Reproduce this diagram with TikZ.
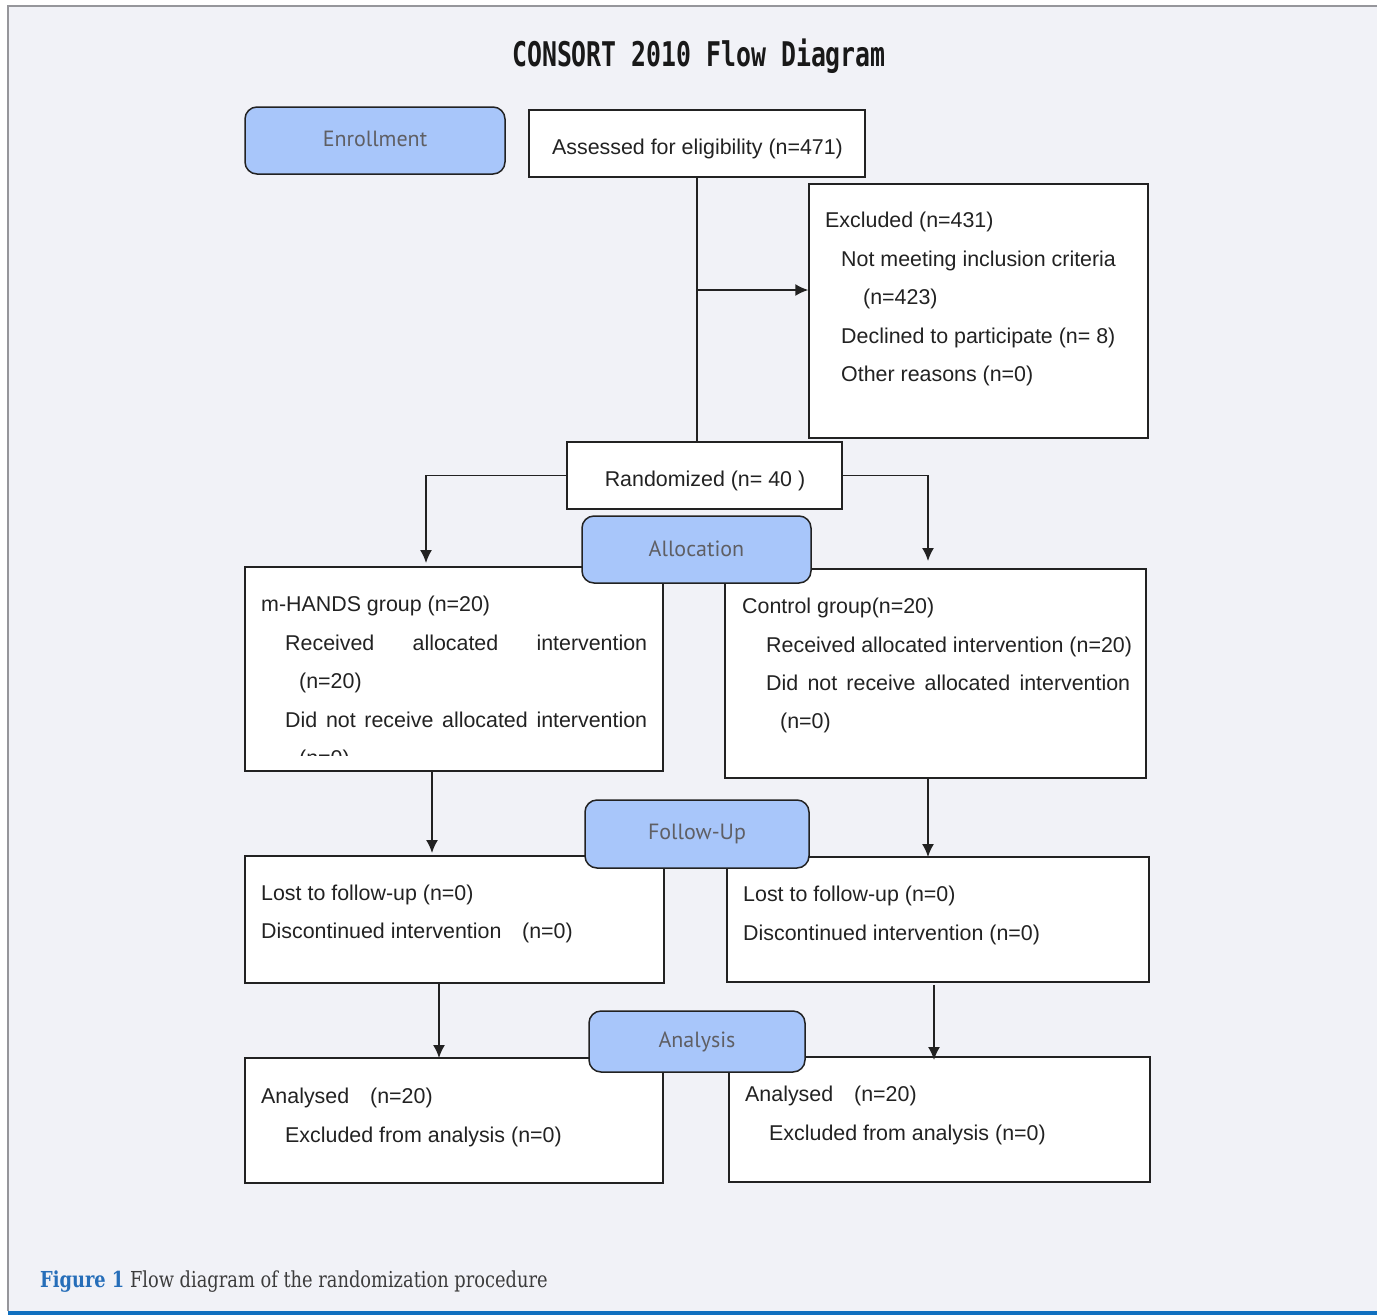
\documentclass[tikz,border=0pt]{standalone}
\usepackage{fontspec}
\setmainfont{Liberation Sans}
\newfontfamily\titlefont[FakeStretch=0.73]{DejaVu Sans Mono}
\newfontfamily\labelfont{PT Sans}
\newfontfamily\capfont[FakeStretch=0.81]{DejaVu Serif}
\usetikzlibrary{arrows.meta,calc}
\definecolor{bg}{RGB}{241,242,247}
\definecolor{lblue}{RGB}{168,198,250}
\definecolor{ink}{RGB}{34,34,34}
\definecolor{lbltext}{RGB}{95,95,100}
\definecolor{capblue}{RGB}{38,110,185}
\definecolor{capgray}{RGB}{60,60,60}
\definecolor{barblue}{RGB}{17,112,191}
\definecolor{frame}{RGB}{150,150,155}
\tikzset{
  box/.style={draw=ink, line width=1.5pt, fill=white, inner sep=0pt, rectangle},
  lbl/.style={draw=ink, line width=1.5pt, fill=lblue, rounded corners=12pt, inner sep=0pt,
    font=\labelfont\fontsize{22}{26}\selectfont, text=lbltext},
  txt/.style={anchor=base west, inner sep=0pt, font=\fontsize{21.4}{25}\selectfont, text=ink},
  ctxt/.style={anchor=base, inner sep=0pt, font=\fontsize{21.4}{25}\selectfont, text=ink},
  conn/.style={draw=ink, line width=1.5pt},
  arr/.style={conn, -{Latex[length=13pt,width=12pt]}}
}
\begin{document}
\begin{tikzpicture}[x=1pt,y=-1pt]
\useasboundingbox (0,0) rectangle (1377,1315);
% background and frame
\fill[white] (0,0) rectangle (1377,1315);
\fill[bg] (8,6) rectangle (1377,1311);
\draw[frame, line width=1.5pt] (8,1311) -- (8,6) -- (1377,6);
\fill[barblue] (8,1311) rectangle (1377,1315);

% title
\node[inner sep=0pt, text=black!90, font=\titlefont\bfseries\fontsize{34}{40}\selectfont] (title) at (699,56) {CONSORT 2010 Flow Diagram};

% boxes
\node[box, minimum width=336pt, minimum height=67pt] (assess) at (697,143.5) {};
\node[box, minimum width=339pt, minimum height=254pt] (excl) at (978.5,311) {};
\node[box, minimum width=275pt, minimum height=67pt] (rand) at (704.5,475.5) {};
\node[box, minimum width=418pt, minimum height=204pt] (mh) at (454,669) {};
\node[box, minimum width=421pt, minimum height=209pt] (ctl) at (935.5,673.5) {};
\node[box, minimum width=419pt, minimum height=127pt] (lostL) at (454.5,919.5) {};
\node[box, minimum width=422pt, minimum height=125pt] (lostR) at (938,919.5) {};
\node[box, minimum width=418pt, minimum height=125pt] (anL) at (454,1120.5) {};
\node[box, minimum width=421pt, minimum height=125pt] (anR) at (939.5,1119.5) {};

% connectors
\coordinate (j1) at (697,290);
\coordinate (t1) at (426,563);
\coordinate (t2) at (928,561);
\coordinate (t3) at (432,853);
\coordinate (t4) at (928,857);
\coordinate (t5) at (439,1058);
\coordinate (t6) at (934,1060);
\draw[conn] (assess.south) -- (assess.south |- rand.north);
\draw[arr] (j1) -- (j1 -| excl.west);
\draw[arr] (rand.west) -| (t1);
\draw[arr] (rand.east) -| (t2);
\draw[arr] (mh.south -| t3) -- (t3);
\draw[arr] (ctl.south -| t4) -- (t4);
\draw[arr] (lostL.south -| t5) -- (t5);
\draw[arr] ($(lostR.south -| t6)+(0,2)$) -- (t6);

% texts
\node[ctxt] (assessT) at (697.5,154) {Assessed for eligibility (n=471)};
\node[ctxt] (randT) at (705,486) {Randomized (n= 40 )};

\node[txt] (ex1) at (825,227) {Excluded (n=431)};
\node[txt] (ex2) at (841,266) {Not meeting inclusion criteria};
\node[txt] (ex3) at (863,304) {(n=423)};
\node[txt] (ex4) at (841,343) {Declined to participate (n= 8)};
\node[txt] (ex5) at (841,381) {Other reasons (n=0)};

\begin{scope}
\clip (246,568) rectangle (662,755);
\node[txt] (mh1) at (261,611) {m-HANDS group (n=20)};
\node[txt] (mh2) at (285,650) {\makebox[362pt][s]{Received allocated intervention}};
\node[txt] (mh3) at (299,688) {(n=20)};
\node[txt] (mh4) at (285,727) {\makebox[362pt][s]{Did not receive allocated intervention}};
\node[txt] (mh5) at (299,765) {(n=0)};
\end{scope}

\node[txt] (c1) at (742,613) {Control group(n=20)};
\node[txt] (c2) at (766,652) {Received allocated intervention (n=20)};
\node[txt] (c3) at (766,690) {\makebox[364pt][s]{Did not receive allocated intervention}};
\node[txt] (c4) at (780,728) {(n=0)};

\node[txt] (l1) at (261,900) {Lost to follow-up (n=0)};
\node[txt] (l2) at (261,938) {Discontinued intervention};
\node[txt] (l3) at (522,938) {(n=0)};
\node[txt] (r1) at (743,901) {Lost to follow-up (n=0)};
\node[txt] (r2) at (743,940) {Discontinued intervention (n=0)};

\node[txt] (a1) at (261,1103) {Analysed};
\node[txt] (a2) at (370,1103) {(n=20)};
\node[txt] (a3) at (285,1142) {Excluded from analysis (n=0)};
\node[txt] (b1) at (745,1101) {Analysed};
\node[txt] (b2) at (854,1101) {(n=20)};
\node[txt] (b3) at (769,1140) {Excluded from analysis (n=0)};

% stage labels
\node[lbl, minimum width=260pt, minimum height=67pt] (enr) at (375,140.5) {\raisebox{3pt}{Enrollment}};
\node[lbl, minimum width=229pt, minimum height=67pt] (alloc) at (696.5,549.5) {\raisebox{2pt}{Allocation}};
\node[lbl, minimum width=224pt, minimum height=68pt] (fup) at (697,834) {\raisebox{2pt}{Follow-Up}};
\node[lbl, minimum width=216pt, minimum height=61pt] (anal) at (697,1041.5) {Analysis};

% caption
\node[anchor=base west, inner sep=0pt, font=\capfont\fontsize{22}{26}\selectfont] (cap) at (40,1287)
  {\textcolor{capblue}{\textbf{Figure 1}} \textcolor{capgray}{Flow diagram of the randomization procedure}};
\end{tikzpicture}
\end{document}
